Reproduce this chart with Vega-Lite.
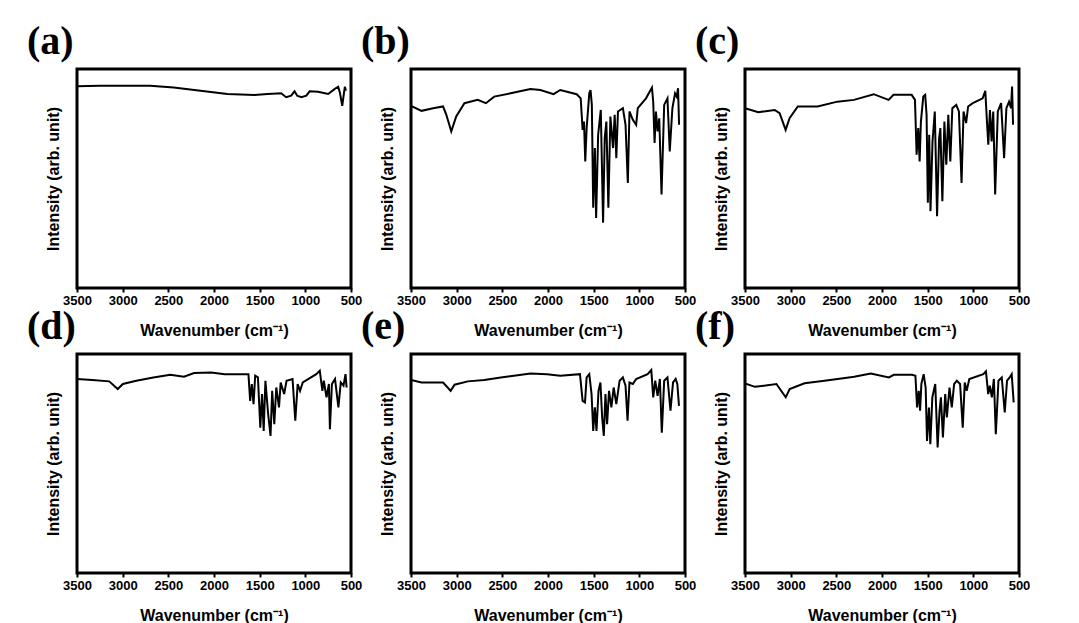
{
  "$schema": "https://vega.github.io/schema/vega-lite/v6.json",
  "padding": {"left": 25, "top": 20, "right": 5, "bottom": 5},
  "background": "white",
  "data": {"values": [
    {"s":"a","w":3500,"v":92.1},{"s":"a","w":3250,"v":92.4},{"s":"a","w":2699,"v":92.4},{"s":"a","w":2441,"v":91.6},{"s":"a","w":2147,"v":90.1},{"s":"a","w":1853,"v":88.6},{"s":"a","w":1559,"v":88.1},{"s":"a","w":1412,"v":88.6},{"s":"a","w":1265,"v":88.9},{"s":"a","w":1210,"v":87.1},{"s":"a","w":1155,"v":87.8},{"s":"a","w":1118,"v":89.8},{"s":"a","w":1089,"v":87.8},{"s":"a","w":1044,"v":87.1},{"s":"a","w":989,"v":87.8},{"s":"a","w":953,"v":89.8},{"s":"a","w":861,"v":89.6},{"s":"a","w":750,"v":88.6},{"s":"a","w":677,"v":90.9},{"s":"a","w":640,"v":91.9},{"s":"a","w":622,"v":89.3},{"s":"a","w":596,"v":83.2},{"s":"a","w":581,"v":87.8},{"s":"a","w":567,"v":91.9},{"s":"a","w":556,"v":90.1},

    {"s":"b","w":3500,"v":83.2},{"s":"b","w":3384,"v":80.9},{"s":"b","w":3258,"v":82.1},{"s":"b","w":3149,"v":82.9},{"s":"b","w":3113,"v":79.1},{"s":"b","w":3059,"v":71.5},{"s":"b","w":3005,"v":78.3},{"s":"b","w":2915,"v":84.4},{"s":"b","w":2770,"v":85.9},{"s":"b","w":2680,"v":84.4},{"s":"b","w":2589,"v":87.4},{"s":"b","w":2409,"v":88.9},{"s":"b","w":2192,"v":90.9},{"s":"b","w":2083,"v":90.4},{"s":"b","w":1939,"v":88.5},{"s":"b","w":1866,"v":90.4},{"s":"b","w":1686,"v":88.5},{"s":"b","w":1642,"v":86.6},{"s":"b","w":1621,"v":72.2},{"s":"b","w":1606,"v":76.0},{"s":"b","w":1592,"v":57.8},{"s":"b","w":1577,"v":73.0},{"s":"b","w":1548,"v":88.9},{"s":"b","w":1534,"v":90.4},{"s":"b","w":1520,"v":83.6},{"s":"b","w":1505,"v":36.6},{"s":"b","w":1487,"v":63.9},{"s":"b","w":1473,"v":32.0},{"s":"b","w":1451,"v":70.0},{"s":"b","w":1422,"v":81.3},{"s":"b","w":1397,"v":29.8},{"s":"b","w":1379,"v":68.4},{"s":"b","w":1361,"v":76.0},{"s":"b","w":1339,"v":36.6},{"s":"b","w":1317,"v":78.3},{"s":"b","w":1288,"v":63.9},{"s":"b","w":1270,"v":79.1},{"s":"b","w":1252,"v":59.3},{"s":"b","w":1234,"v":80.6},{"s":"b","w":1180,"v":82.1},{"s":"b","w":1151,"v":74.5},{"s":"b","w":1126,"v":48.0},{"s":"b","w":1108,"v":80.6},{"s":"b","w":1071,"v":76.8},{"s":"b","w":1035,"v":74.5},{"s":"b","w":1017,"v":82.1},{"s":"b","w":927,"v":86.6},{"s":"b","w":862,"v":91.5},{"s":"b","w":848,"v":85.1},{"s":"b","w":833,"v":66.2},{"s":"b","w":818,"v":80.6},{"s":"b","w":800,"v":71.5},{"s":"b","w":782,"v":77.5},{"s":"b","w":757,"v":42.7},{"s":"b","w":728,"v":83.6},{"s":"b","w":692,"v":86.6},{"s":"b","w":667,"v":62.4},{"s":"b","w":638,"v":82.1},{"s":"b","w":609,"v":88.9},{"s":"b","w":591,"v":87.4},{"s":"b","w":576,"v":91.2},{"s":"b","w":565,"v":74.5},

    {"s":"c","w":3500,"v":82.1},{"s":"c","w":3355,"v":80.3},{"s":"c","w":3175,"v":81.3},{"s":"c","w":3121,"v":79.8},{"s":"c","w":3055,"v":72.2},{"s":"c","w":3012,"v":77.5},{"s":"c","w":2922,"v":82.9},{"s":"c","w":2705,"v":82.9},{"s":"c","w":2488,"v":85.1},{"s":"c","w":2307,"v":85.9},{"s":"c","w":2091,"v":88.5},{"s":"c","w":1928,"v":85.9},{"s":"c","w":1874,"v":88.2},{"s":"c","w":1675,"v":88.2},{"s":"c","w":1639,"v":85.9},{"s":"c","w":1621,"v":60.9},{"s":"c","w":1603,"v":73.0},{"s":"c","w":1588,"v":57.8},{"s":"c","w":1574,"v":76.0},{"s":"c","w":1548,"v":87.4},{"s":"c","w":1527,"v":88.2},{"s":"c","w":1512,"v":79.1},{"s":"c","w":1498,"v":38.9},{"s":"c","w":1483,"v":70.0},{"s":"c","w":1469,"v":35.1},{"s":"c","w":1447,"v":66.9},{"s":"c","w":1422,"v":80.6},{"s":"c","w":1397,"v":32.8},{"s":"c","w":1375,"v":68.4},{"s":"c","w":1361,"v":73.0},{"s":"c","w":1339,"v":39.6},{"s":"c","w":1317,"v":76.0},{"s":"c","w":1296,"v":56.3},{"s":"c","w":1274,"v":79.1},{"s":"c","w":1252,"v":57.8},{"s":"c","w":1230,"v":82.1},{"s":"c","w":1187,"v":83.6},{"s":"c","w":1158,"v":80.6},{"s":"c","w":1129,"v":48.0},{"s":"c","w":1107,"v":80.6},{"s":"c","w":1079,"v":75.3},{"s":"c","w":1057,"v":82.9},{"s":"c","w":1006,"v":84.4},{"s":"c","w":898,"v":86.6},{"s":"c","w":869,"v":90.0},{"s":"c","w":851,"v":76.0},{"s":"c","w":836,"v":65.4},{"s":"c","w":818,"v":81.3},{"s":"c","w":800,"v":66.9},{"s":"c","w":782,"v":80.6},{"s":"c","w":761,"v":42.7},{"s":"c","w":732,"v":80.6},{"s":"c","w":696,"v":84.4},{"s":"c","w":663,"v":59.3},{"s":"c","w":638,"v":82.1},{"s":"c","w":609,"v":85.1},{"s":"c","w":587,"v":82.1},{"s":"c","w":576,"v":92.0},{"s":"c","w":565,"v":74.5},

    {"s":"d","w":3500,"v":88.6},{"s":"d","w":3333,"v":88.1},{"s":"d","w":3147,"v":87.5},{"s":"d","w":3054,"v":84.0},{"s":"d","w":2998,"v":86.3},{"s":"d","w":2850,"v":87.8},{"s":"d","w":2664,"v":89.3},{"s":"d","w":2478,"v":90.5},{"s":"d","w":2329,"v":89.6},{"s":"d","w":2218,"v":91.3},{"s":"d","w":2032,"v":91.6},{"s":"d","w":1883,"v":90.8},{"s":"d","w":1623,"v":90.8},{"s":"d","w":1604,"v":78.6},{"s":"d","w":1586,"v":86.3},{"s":"d","w":1567,"v":77.1},{"s":"d","w":1549,"v":90.1},{"s":"d","w":1519,"v":89.3},{"s":"d","w":1493,"v":66.4},{"s":"d","w":1474,"v":81.7},{"s":"d","w":1456,"v":64.9},{"s":"d","w":1437,"v":87.8},{"s":"d","w":1407,"v":72.5},{"s":"d","w":1381,"v":62.6},{"s":"d","w":1363,"v":83.2},{"s":"d","w":1340,"v":68.0},{"s":"d","w":1318,"v":84.7},{"s":"d","w":1288,"v":75.6},{"s":"d","w":1270,"v":87.0},{"s":"d","w":1232,"v":81.7},{"s":"d","w":1206,"v":87.8},{"s":"d","w":1140,"v":88.6},{"s":"d","w":1110,"v":69.5},{"s":"d","w":1084,"v":86.3},{"s":"d","w":1058,"v":83.2},{"s":"d","w":1028,"v":87.0},{"s":"d","w":880,"v":90.8},{"s":"d","w":842,"v":92.4},{"s":"d","w":813,"v":83.2},{"s":"d","w":798,"v":87.8},{"s":"d","w":768,"v":80.2},{"s":"d","w":742,"v":86.3},{"s":"d","w":731,"v":65.7},{"s":"d","w":709,"v":86.3},{"s":"d","w":675,"v":88.6},{"s":"d","w":638,"v":75.6},{"s":"d","w":612,"v":87.0},{"s":"d","w":582,"v":85.5},{"s":"d","w":560,"v":90.8},{"s":"d","w":548,"v":84.7},

    {"s":"e","w":3500,"v":88.1},{"s":"e","w":3384,"v":87.0},{"s":"e","w":3149,"v":87.0},{"s":"e","w":3066,"v":83.2},{"s":"e","w":3023,"v":86.0},{"s":"e","w":2878,"v":87.5},{"s":"e","w":2698,"v":88.1},{"s":"e","w":2517,"v":89.3},{"s":"e","w":2372,"v":90.1},{"s":"e","w":2192,"v":91.1},{"s":"e","w":2011,"v":90.8},{"s":"e","w":1866,"v":90.1},{"s":"e","w":1650,"v":90.8},{"s":"e","w":1621,"v":78.6},{"s":"e","w":1595,"v":77.9},{"s":"e","w":1577,"v":89.3},{"s":"e","w":1548,"v":90.8},{"s":"e","w":1523,"v":81.7},{"s":"e","w":1505,"v":64.9},{"s":"e","w":1487,"v":75.6},{"s":"e","w":1469,"v":64.9},{"s":"e","w":1447,"v":83.2},{"s":"e","w":1426,"v":87.0},{"s":"e","w":1407,"v":71.0},{"s":"e","w":1389,"v":62.6},{"s":"e","w":1371,"v":81.7},{"s":"e","w":1353,"v":68.0},{"s":"e","w":1332,"v":83.2},{"s":"e","w":1306,"v":75.6},{"s":"e","w":1281,"v":84.7},{"s":"e","w":1252,"v":77.1},{"s":"e","w":1216,"v":87.8},{"s":"e","w":1180,"v":89.3},{"s":"e","w":1151,"v":85.5},{"s":"e","w":1129,"v":69.5},{"s":"e","w":1108,"v":87.0},{"s":"e","w":1071,"v":86.3},{"s":"e","w":1035,"v":88.6},{"s":"e","w":909,"v":90.8},{"s":"e","w":869,"v":92.7},{"s":"e","w":848,"v":80.2},{"s":"e","w":826,"v":87.8},{"s":"e","w":800,"v":80.9},{"s":"e","w":775,"v":88.6},{"s":"e","w":754,"v":64.1},{"s":"e","w":728,"v":87.8},{"s":"e","w":692,"v":89.3},{"s":"e","w":659,"v":74.1},{"s":"e","w":631,"v":87.0},{"s":"e","w":602,"v":88.6},{"s":"e","w":584,"v":86.3},{"s":"e","w":566,"v":76.3},

    {"s":"f","w":3500,"v":86.6},{"s":"f","w":3391,"v":85.0},{"s":"f","w":3156,"v":86.3},{"s":"f","w":3054,"v":80.2},{"s":"f","w":3011,"v":84.0},{"s":"f","w":2848,"v":86.6},{"s":"f","w":2630,"v":87.8},{"s":"f","w":2486,"v":88.6},{"s":"f","w":2304,"v":89.6},{"s":"f","w":2123,"v":91.1},{"s":"f","w":1924,"v":89.3},{"s":"f","w":1870,"v":90.5},{"s":"f","w":1670,"v":90.5},{"s":"f","w":1634,"v":90.1},{"s":"f","w":1616,"v":75.6},{"s":"f","w":1598,"v":83.2},{"s":"f","w":1583,"v":74.1},{"s":"f","w":1569,"v":86.3},{"s":"f","w":1544,"v":90.8},{"s":"f","w":1522,"v":84.7},{"s":"f","w":1507,"v":60.3},{"s":"f","w":1486,"v":75.6},{"s":"f","w":1471,"v":58.8},{"s":"f","w":1449,"v":80.2},{"s":"f","w":1417,"v":86.3},{"s":"f","w":1391,"v":57.3},{"s":"f","w":1370,"v":74.1},{"s":"f","w":1355,"v":80.2},{"s":"f","w":1333,"v":61.9},{"s":"f","w":1308,"v":81.7},{"s":"f","w":1290,"v":71.0},{"s":"f","w":1261,"v":84.7},{"s":"f","w":1236,"v":75.6},{"s":"f","w":1210,"v":86.3},{"s":"f","w":1181,"v":87.8},{"s":"f","w":1145,"v":86.3},{"s":"f","w":1116,"v":66.4},{"s":"f","w":1094,"v":87.0},{"s":"f","w":1073,"v":83.2},{"s":"f","w":1044,"v":88.6},{"s":"f","w":891,"v":90.8},{"s":"f","w":862,"v":92.1},{"s":"f","w":837,"v":81.7},{"s":"f","w":819,"v":85.5},{"s":"f","w":797,"v":80.2},{"s":"f","w":775,"v":88.6},{"s":"f","w":754,"v":63.4},{"s":"f","w":725,"v":87.8},{"s":"f","w":689,"v":89.3},{"s":"f","w":656,"v":73.3},{"s":"f","w":631,"v":87.8},{"s":"f","w":602,"v":89.3},{"s":"f","w":580,"v":90.8},{"s":"f","w":558,"v":77.9}
  ]},
  "columns": 3,
  "spacing": {"row": 66, "column": 60},
  "bounds": "flush",
  "concat": [
    {"title": "(a)", "width": 274, "height": 219, "transform": [{"filter": "datum.s == 'a'"}], "mark": {"type": "line", "color": "black", "strokeWidth": 2, "clip": true},
     "encoding": {"x": {"field": "w", "type": "quantitative", "title": "Wavenumber (cm⁻¹)", "scale": {"domain": [500, 3500], "reverse": true, "nice": false}},
                  "y": {"field": "v", "type": "quantitative", "title": "Intensity (arb. unit)", "scale": {"domain": [0, 100], "nice": false}}}},
    {"title": "(b)", "width": 274, "height": 219, "transform": [{"filter": "datum.s == 'b'"}], "mark": {"type": "line", "color": "black", "strokeWidth": 2, "clip": true},
     "encoding": {"x": {"field": "w", "type": "quantitative", "title": "Wavenumber (cm⁻¹)", "scale": {"domain": [500, 3500], "reverse": true, "nice": false}},
                  "y": {"field": "v", "type": "quantitative", "title": "Intensity (arb. unit)", "scale": {"domain": [0, 100], "nice": false}}}},
    {"title": "(c)", "width": 274, "height": 219, "transform": [{"filter": "datum.s == 'c'"}], "mark": {"type": "line", "color": "black", "strokeWidth": 2, "clip": true},
     "encoding": {"x": {"field": "w", "type": "quantitative", "title": "Wavenumber (cm⁻¹)", "scale": {"domain": [500, 3500], "reverse": true, "nice": false}},
                  "y": {"field": "v", "type": "quantitative", "title": "Intensity (arb. unit)", "scale": {"domain": [0, 100], "nice": false}}}},
    {"title": "(d)", "width": 274, "height": 219, "transform": [{"filter": "datum.s == 'd'"}], "mark": {"type": "line", "color": "black", "strokeWidth": 2, "clip": true},
     "encoding": {"x": {"field": "w", "type": "quantitative", "title": "Wavenumber (cm⁻¹)", "scale": {"domain": [500, 3500], "reverse": true, "nice": false}},
                  "y": {"field": "v", "type": "quantitative", "title": "Intensity (arb. unit)", "scale": {"domain": [0, 100], "nice": false}}}},
    {"title": "(e)", "width": 274, "height": 219, "transform": [{"filter": "datum.s == 'e'"}], "mark": {"type": "line", "color": "black", "strokeWidth": 2, "clip": true},
     "encoding": {"x": {"field": "w", "type": "quantitative", "title": "Wavenumber (cm⁻¹)", "scale": {"domain": [500, 3500], "reverse": true, "nice": false}},
                  "y": {"field": "v", "type": "quantitative", "title": "Intensity (arb. unit)", "scale": {"domain": [0, 100], "nice": false}}}},
    {"title": "(f)", "width": 274, "height": 219, "transform": [{"filter": "datum.s == 'f'"}], "mark": {"type": "line", "color": "black", "strokeWidth": 2, "clip": true},
     "encoding": {"x": {"field": "w", "type": "quantitative", "title": "Wavenumber (cm⁻¹)", "scale": {"domain": [500, 3500], "reverse": true, "nice": false}},
                  "y": {"field": "v", "type": "quantitative", "title": "Intensity (arb. unit)", "scale": {"domain": [0, 100], "nice": false}}}}
  ],
  "config": {
    "view": {"stroke": "black", "strokeWidth": 3},
    "title": {"font": "Liberation Serif", "fontWeight": "bold", "fontSize": 40, "anchor": "start", "frame": "group", "dx": -50, "baseline": "alphabetic", "offset": 7, "color": "black"},
    "axisX": {"values": [3500, 3000, 2500, 2000, 1500, 1000, 500], "format": "d", "domain": false, "grid": false, "tickColor": "black", "tickWidth": 2, "tickSize": 4, "labelFont": "Liberation Sans", "labelFontWeight": "bold", "labelFontSize": 13, "labelColor": "black", "labelPadding": 2, "labelFlush": false, "labelOverlap": false, "titleFont": "Liberation Sans", "titleFontWeight": "bold", "titleFontSize": 16, "titleColor": "black", "titlePadding": 15},
    "axisY": {"domain": false, "grid": false, "ticks": false, "labels": false, "titleFont": "Liberation Sans", "titleFontWeight": "bold", "titleFontSize": 16, "titleColor": "black", "titlePadding": 16}
  }
}
